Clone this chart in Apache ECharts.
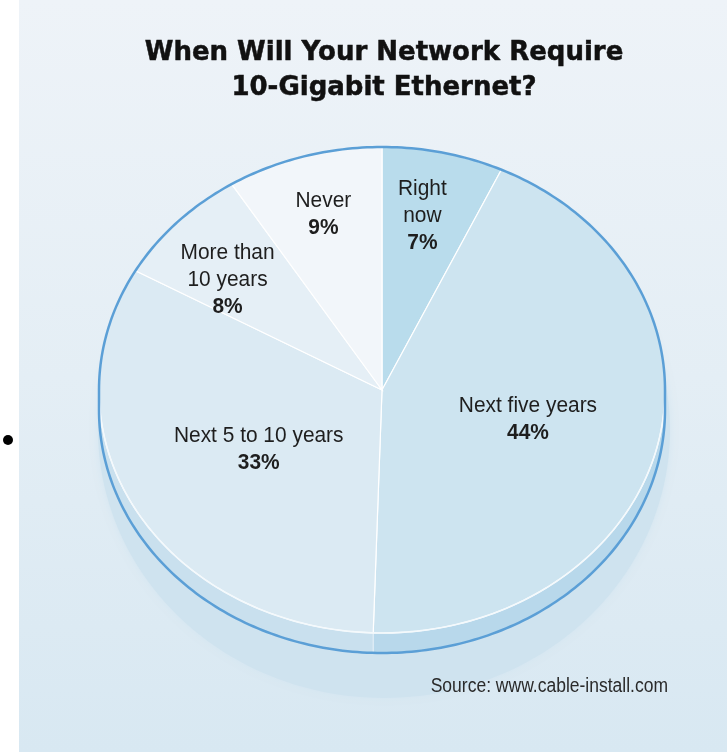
<!DOCTYPE html>
<html><head><meta charset="utf-8">
<script src="https://cdn.jsdelivr.net/npm/echarts@6/dist/echarts.min.js"></script>
<style>html,body{margin:0;padding:0;background:#fff}#c{width:727px;height:752px}</style>
</head><body><div id="c"></div>
<script>
// ---- data ----
const categories = ['Right\nnow', 'Next five years', 'Next 5 to 10 years', 'More than\n10 years', 'Never'];
const values = [7, 44, 33, 8, 9];
const titleLines = ['When Will Your Network Require', '10-Gigabit Ethernet?'];
const sourceText = 'Source: www.cable-install.com';

// ---- layout / style ----
const CX = 382, CY = 390, RX = 283, RY = 243, DEPTH = 20;
const faceColors = ['#b9dcec', '#cde4f0', '#dbeaf3', '#e5eff6', '#f2f6fa'];
const wallColors = ['#a8d0e6', '#b8d8eb', '#c9e0ee', '#d3e6f1', '#dde9f2'];
const labelR = [0.73, 0.53, 0.5, 0.71, 0.75];
const labelAngOffset = [-1.2, 0, 0, -3.9, 0];
const LABEL_FONT = "'Liberation Sans', Arial, sans-serif";

const total = values.reduce((a, b) => a + b, 0);
function pt(aDeg, dy) {
  const a = aDeg * Math.PI / 180;
  return [CX + RX * Math.sin(a), CY - RY * Math.cos(a) + (dy || 0)];
}
function arcPts(a0, a1, dy) {
  const out = [];
  const n = Math.max(2, Math.ceil(Math.abs(a1 - a0)));
  for (let s = 0; s <= n; s++) out.push(pt(a0 + (a1 - a0) * s / n, dy));
  return out;
}

function renderItem(params, api) {
  const i = params.dataIndex;
  let before = 0;
  for (let k = 0; k < i; k++) before += values[k];
  const v = api.value(0);
  const a0 = before / total * 360, a1 = (before + v) / total * 360;
  const children = [];
  const w0 = Math.max(a0, 90), w1 = Math.min(a1, 270);
  if (w1 > w0) {
    const wall = arcPts(w0, w1, 0).concat(arcPts(w1, w0, DEPTH));
    children.push({ type: 'polygon', shape: { points: wall }, style: { fill: wallColors[i], stroke: wallColors[i], lineWidth: 0.5 } });
    if (a0 >= 90 && a0 <= 270) children.push({ type: 'line', shape: { x1: pt(a0)[0], y1: pt(a0)[1], x2: pt(a0, DEPTH)[0], y2: pt(a0, DEPTH)[1] }, style: { stroke: '#e8f2f8', lineWidth: 1 } });
  }
  const face = [[CX, CY]].concat(arcPts(a0, a1, 0));
  children.push({ type: 'polygon', shape: { points: face }, style: { fill: faceColors[i], stroke: '#ffffff', lineWidth: 1.2 } });
  const la = ((a0 + a1) / 2 + labelAngOffset[i]) * Math.PI / 180;
  const lx = CX + RX * labelR[i] * Math.sin(la), ly = CY - RY * labelR[i] * Math.cos(la);
  const name = categories[i].split('\n').map(l => '{n|' + l + '}').join('\n');
  children.push({
    type: 'text', z2: 50,
    x: lx, y: ly, scaleX: 0.95, originX: 0, originY: 0,
    style: {
      text: name + '\n{p|' + v + '%}', x: 0, y: 0, align: 'center', verticalAlign: 'middle',
      rich: {
        n: { fontFamily: LABEL_FONT, fontSize: 22, fill: '#1e1e1e', lineHeight: 27, align: 'center' },
        p: { fontFamily: LABEL_FONT, fontSize: 22, fontWeight: 'bold', fill: '#1e1e1e', lineHeight: 27, align: 'center' }
      }
    }
  });
  return { type: 'group', children };
}

// decorations
const shadowPts = [];
for (let a = 0; a < 360; a += 2) { const r = a * Math.PI / 180; shadowPts.push([384 + 286 * Math.sin(r), 430 - 268 * Math.cos(r)]); }
const outlinePts = arcPts(270, 450, 0).concat(arcPts(90, 270, DEPTH));
const highlightPts = arcPts(92, 268, 0);

const chart = echarts.init(document.getElementById('c'), null, { renderer: 'canvas' });
chart.setOption({
  backgroundColor: '#ffffff',
  animation: false,
  title: {
    text: titleLines.join('\n'),
    left: 379, top: 31, textAlign: 'center',
    textStyle: { fontFamily: "'DejaVu Sans', sans-serif", fontWeight: 'bold', fontSize: 26, lineHeight: 35, color: '#111111',
      textBorderColor: '#111111', textBorderWidth: 0.5 }
  },
  graphic: [
    { type: 'rect', z: -10, silent: true, shape: { x: 19, y: 0, width: 708, height: 752 },
      style: { fill: { type: 'linear', x: 0, y: 0, x2: 0, y2: 1, colorStops: [{ offset: 0, color: '#eef3f8' }, { offset: 0.5, color: '#e4eef5' }, { offset: 1, color: '#d8e8f2' }] } } },
    { type: 'circle', z: -9, silent: true, shape: { cx: 8, cy: 440, r: 5 }, style: { fill: '#000' } },
    { type: 'polygon', z: -8, silent: true, shape: { points: shadowPts }, style: { fill: '#cfe3ef', shadowBlur: 8, shadowColor: '#d4e6f1' } },
    { type: 'polyline', z: 50, silent: true, shape: { points: highlightPts }, style: { stroke: '#f4f9fc', lineWidth: 1.6, fill: null } },
    { type: 'polygon', z: 51, silent: true, shape: { points: outlinePts }, style: { stroke: '#5b9fd6', lineWidth: 2.5, fill: null } },
    { type: 'text', z: 52, silent: true, x: 668, y: 686, scaleX: 0.875, originX: 0, originY: 0,
      style: { text: sourceText, x: 0, y: 0, align: 'right', verticalAlign: 'middle',
      font: "20px 'Liberation Sans', Arial, sans-serif", fill: '#2a2a2a' } }
  ],
  series: [{
    type: 'custom',
    coordinateSystem: 'none',
    renderItem: renderItem,
    data: values.map((v, i) => ({ name: categories[i], value: v }))
  }]
});
</script>
</body></html>
